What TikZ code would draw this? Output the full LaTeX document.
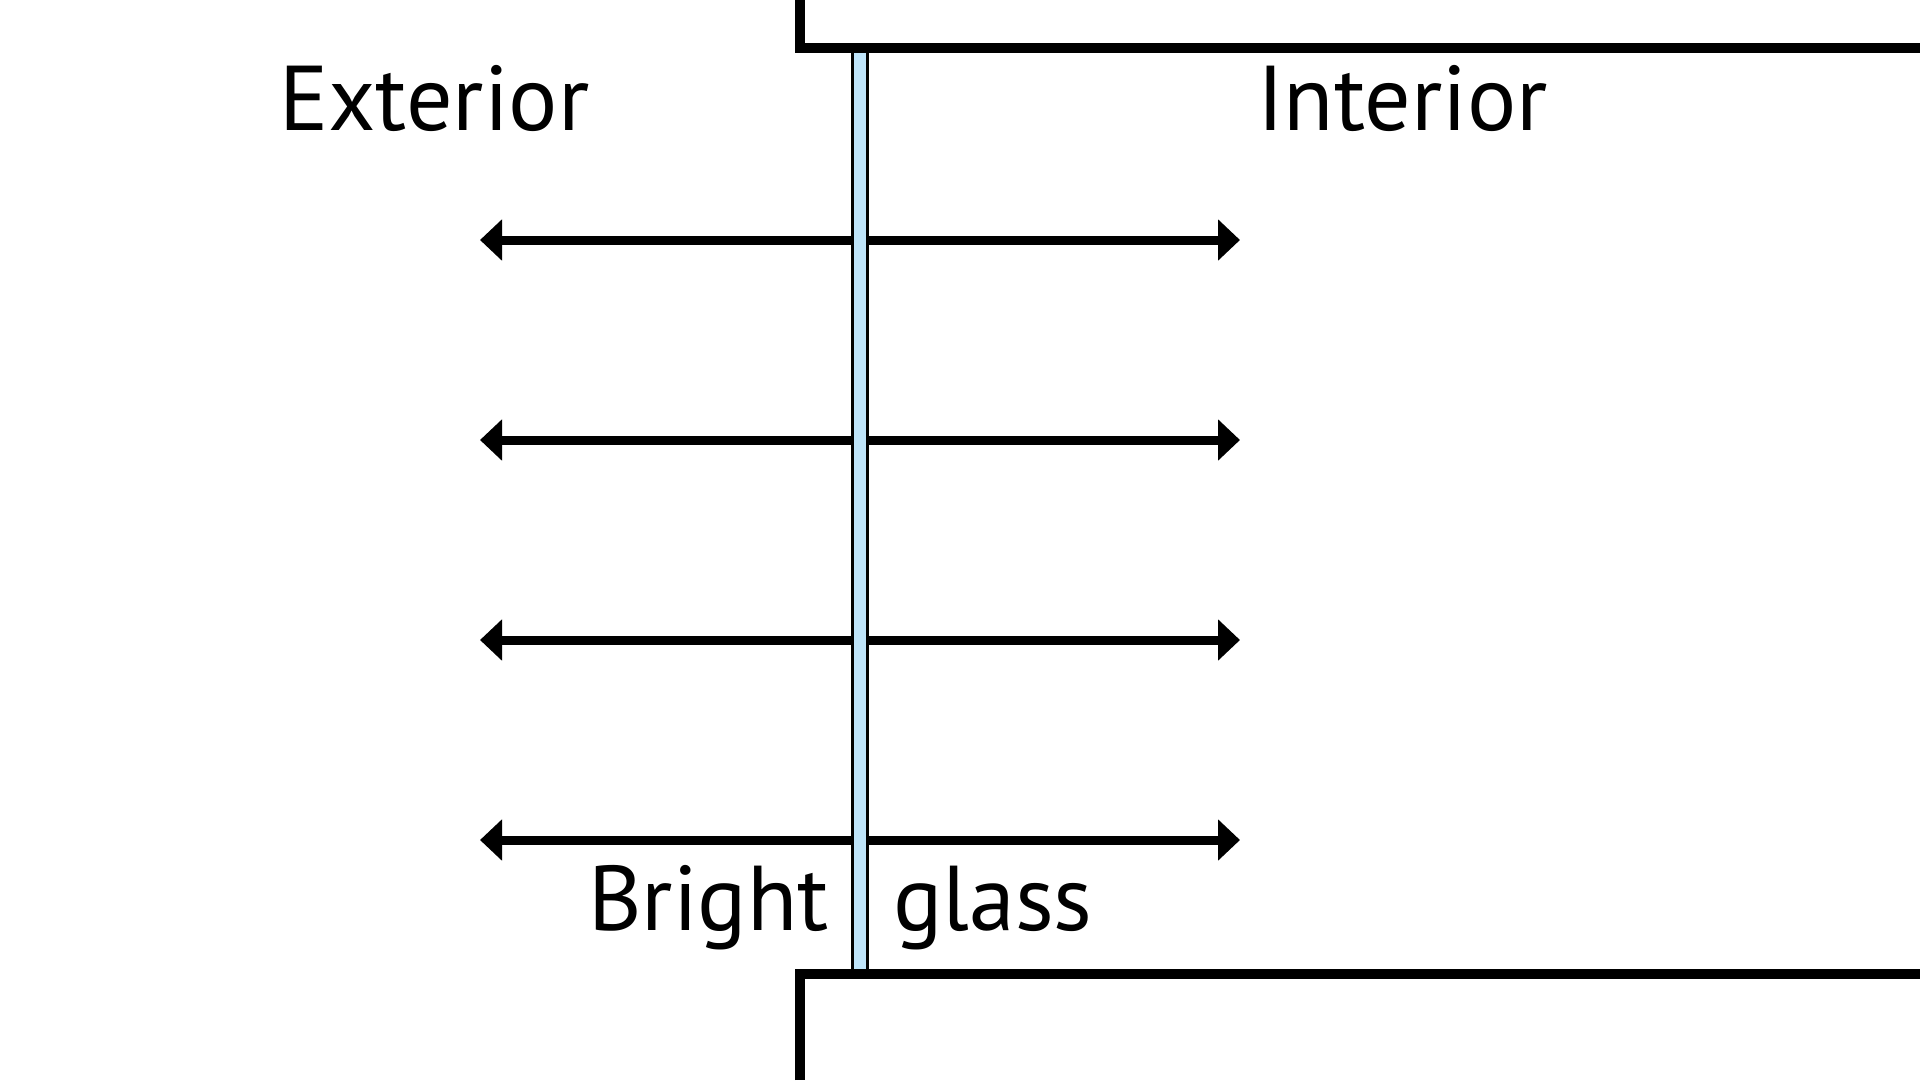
\documentclass[tikz,border=0pt]{standalone}
\usepackage{fontspec}
\setmainfont{PT Sans}
\usepackage{xcolor}
\usetikzlibrary{arrows.meta,positioning}
\definecolor{paneblue}{RGB}{190,228,250}

\begin{document}
\begin{tikzpicture}[x=1pt, y=-1pt,
    every node/.style={inner sep=0pt, font=\fontsize{92}{100}\selectfont},
    wall/.style={line width=10pt},
    ray/.style={line width=9pt, -{Triangle[length=22pt, width=40pt]}}]
    \useasboundingbox (0,0) rectangle (1920,1080);
    % glass pane
    \node[draw, fill=paneblue, line width=3pt, minimum width=15pt, minimum height=926pt] (glass) at (860,511) {};
    % walls
    \draw[wall] (800,0) -- (800,48) -- (1920,48);
    \draw[wall] (800,1080) -- (800,974) -- (1920,974);
    % rays
    \foreach \y/\n in {240/a,440/b,640/c,840/d}
    {
        \coordinate (out\n) at (480,\y);
        \coordinate (in\n) at (1240,\y);
        \draw[ray] (glass.west |- out\n) -- (out\n);
        \draw[ray] (glass.east |- in\n) -- (in\n);
    }
    % labels
    \node[anchor=base west] (exterior) at (279,130) {Exterior};
    \node[anchor=base west] (interior) at (1257,130) {Interior};
    \node[anchor=base west] (bright) at (588,930) {Bright};
    \node[anchor=base west] (glasslabel) at (893,930) {glass};
\end{tikzpicture}
\end{document}
